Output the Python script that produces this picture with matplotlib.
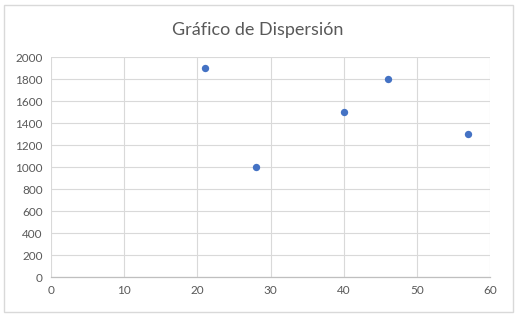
import matplotlib
matplotlib.use("Agg")
import matplotlib.pyplot as plt
from matplotlib.patches import Rectangle

x_values = [21, 28, 40, 46, 57]
y_values = [1900, 1000, 1500, 1800, 1300]
x_ticks = [0, 10, 20, 30, 40, 50, 60]
y_ticks = [0, 200, 400, 600, 800, 1000, 1200, 1400, 1600, 1800, 2000]
title = "Gráfico de Dispersión"

plt.rcParams['font.family'] = ['Lato', 'DejaVu Sans']

W, H = 520, 317
fig = plt.figure(figsize=(W/100, H/100), dpi=100)
fig.patches.append(Rectangle((4/W, 1 - 312/H), (513-4)/W, (312-5)/H, transform=fig.transFigure,
                             fill=False, edgecolor='#d9d9d9', linewidth=1))

ax = fig.add_axes([51/W, 1 - 277/H, (490-51)/W, (277-57)/H])
ax.set_xlim(0, 60)
ax.set_ylim(0, 2000)
ax.set_xticks(x_ticks)
ax.set_yticks(y_ticks)
ax.grid(True, color='#d9d9d9', linewidth=0.8)
ax.set_axisbelow(True)
for s in ['top', 'right', 'left']:
    ax.spines[s].set_visible(False)
ax.spines['bottom'].set_color('#bfbfbf')
ax.spines['bottom'].set_linewidth(0.9)
ax.tick_params(length=0, labelsize=8.5, labelcolor='#595959', pad=6)
ax.scatter(x_values, y_values, s=28, color='#4472C4', zorder=3, linewidths=0)

fig.text(258/W, 1 - 30/H, title, ha='center', va='center', fontsize=13, color='#595959')

fig.savefig('out.png', dpi=100)
